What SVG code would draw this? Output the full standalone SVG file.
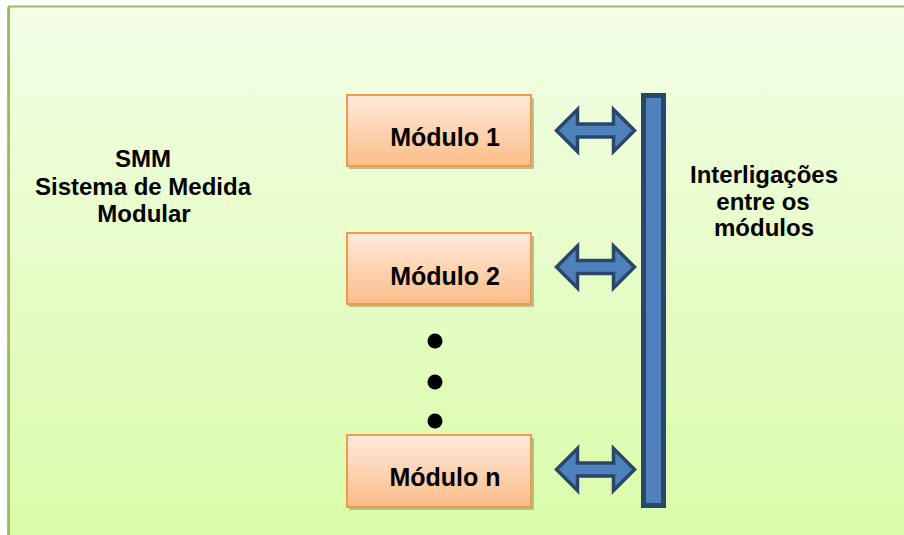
<svg xmlns="http://www.w3.org/2000/svg" width="904" height="535" viewBox="0 0 904 535">
  <defs>
    <linearGradient id="bg" x1="0" y1="0" x2="0" y2="1">
      <stop offset="0" stop-color="#f3fee6"/>
      <stop offset="1" stop-color="#d7fba1"/>
    </linearGradient>
    <linearGradient id="box" x1="0" y1="0" x2="0" y2="1">
      <stop offset="0" stop-color="#ffeadc"/>
      <stop offset="1" stop-color="#fcbd88"/>
    </linearGradient>
    <!-- double-headed block arrow, drawn around its own centre -->
    <path id="dblArrow" d="M-39,0 L-18,-21 L-18,-6.5 L18,-6.5 L18,-21 L39,0 L18,21 L18,6.5 L-18,6.5 L-18,21 Z"/>
  </defs>
  <style>
    .label { font-family: "Liberation Sans", Arial, sans-serif; font-weight: bold; fill: #000; text-anchor: middle; }
    .mod rect.face { fill: url(#box); stroke: #f79646; stroke-width: 2; }
    .mod rect.shadow { fill: #7f8a5c; opacity: 0.5; }
    .mod text { font-size: 25px; }
    .side { font-size: 24px; }
    .link { fill: #4f81bd; stroke: #2a4769; stroke-width: 3.5; stroke-linejoin: miter; }
    .dot { fill: #000; }
  </style>

  <!-- slide background panel -->
  <rect x="7" y="7" width="1000" height="600" fill="#b4b8a8"/>
  <rect x="9" y="6.5" width="1000" height="600" fill="url(#bg)" stroke="#9bbb59" stroke-width="2"/>

  <g id="smm-title">
    <text class="label side" x="143" y="167">SMM</text>
    <text class="label side" x="143" y="195">Sistema de Medida</text>
    <text class="label side" x="144" y="222">Modular</text>
  </g>

  <g id="modulo-1" class="mod">
    <rect class="shadow" x="349" y="98" width="185" height="71"/>
    <rect class="face" x="347" y="95" width="184" height="71"/>
    <text class="label" x="445" y="146">Módulo 1</text>
  </g>

  <g id="modulo-2" class="mod">
    <rect class="shadow" x="349" y="236" width="185" height="71"/>
    <rect class="face" x="347" y="233" width="184" height="71"/>
    <text class="label" x="445" y="285">Módulo 2</text>
  </g>

  <g id="ellipsis">
    <circle class="dot" cx="435" cy="341" r="7.5"/>
    <circle class="dot" cx="435" cy="382" r="7.5"/>
    <circle class="dot" cx="435" cy="421" r="7.5"/>
  </g>

  <g id="modulo-n" class="mod">
    <rect class="shadow" x="349" y="438" width="185" height="72"/>
    <rect class="face" x="347" y="435" width="184" height="72"/>
    <text class="label" x="445" y="486">Módulo n</text>
  </g>

  <g id="barramento">
    <rect x="643.5" y="95.5" width="20" height="410" fill="#4f81bd" stroke="#2a4769" stroke-width="5"/>
  </g>

  <g id="interligacoes-label">
    <text class="label side" x="764" y="183">Interligações</text>
    <text class="label side" x="763" y="210">entre os</text>
    <text class="label side" x="764" y="236">módulos</text>
  </g>

  <g id="connectors">
    <use href="#dblArrow" class="link" x="595.5" y="130.5"/>
    <use href="#dblArrow" class="link" x="595.5" y="267"/>
    <use href="#dblArrow" class="link" x="595.5" y="469.5"/>
  </g>
</svg>
